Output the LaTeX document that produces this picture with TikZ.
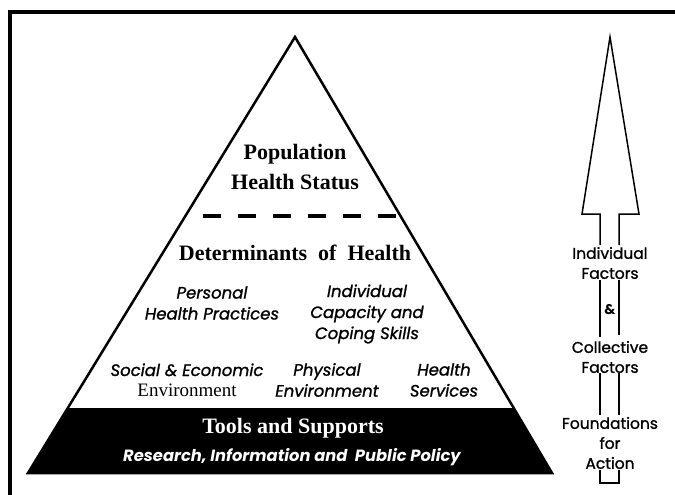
\documentclass[tikz,border=0pt]{standalone}
\usepackage{fontspec}
\usetikzlibrary{calc}
\setmainfont{Liberation Serif}
\newfontfamily\gothic[FakeBold=1.2]{Poppins}
\newfontfamily\gothicb{Poppins}
\begin{document}
\begin{tikzpicture}[x=1pt,y=-1pt,
  serifbig/.style={font=\fontsize{22}{30}\selectfont\bfseries, align=center, inner sep=0pt},
  gothicit/.style={font=\gothic\itshape\fontsize{16.5}{21}\selectfont, align=center, inner sep=0pt},
  serifsmall/.style={font=\fontsize{19}{20}\selectfont, inner sep=0pt},
  sidetext/.style={font=\gothic\fontsize{15.5}{20}\selectfont, align=center, inner sep=0pt},
  shaft/.style={line width=1.5pt},
  frame/.style={line width=4pt}]
\useasboundingbox (0,0) rectangle (675,495);
\fill[white] (0,0) rectangle (675,495);
% frame
\draw[frame] (675,12) -- (10,12) -- (10,495);
% pyramid
\coordinate (apex) at (295,37);
\coordinate (bl) at (28,473);
\coordinate (br) at (552,473);
\path[fill=black] ($(apex)!0.851!(bl)$) -- (bl) -- (br) -- ($(apex)!0.851!(br)$) -- cycle;
\draw[line width=2.5pt, line join=miter] (apex) -- (bl) -- (br) -- cycle;
% dashed line
\coordinate (dl) at (203,216);
\coordinate (dr) at (396,216);
\draw[line width=4pt, dash pattern=on 18pt off 17pt] (dl) -- (dr);
% texts
\node[serifbig] (pop) at (295,167) {Population\\Health Status};
\node[serifbig] (det) at (295,253) {Determinants\ \ of\ \ Health};
\node[gothicit] (php) at (212,303) {Personal\\Health Practices};
\node[gothicit] (icc) at (367,314) {Individual\\Capacity and\\Coping Skills};
\node[gothicit, anchor=base] (soc) at (187,376) {Social \& Economic};
\node[serifsmall, anchor=base] (env) at (187,396) {Environment};
\node[gothicit] (phy) at (327,380) {Physical\\Environment};
\node[gothicit] (hs) at (444,380) {Health\\Services};
\node[serifbig, text=white] (tools) at (293,428) {Tools and Supports};
\node[gothicit, text=white, font=\gothicb\itshape\bfseries\fontsize{16.3}{20}\selectfont] (rip) at (292,457) {Research, Information and\ \ Public Policy};
% right arrow
\coordinate (tip) at (610,37);
\draw[shaft, line join=miter] (600,245) -- (600,214) -- (582,214) -- (tip) -- (639,214) -- (619,214) -- (619,245);
\node[sidetext] (ind) at (610,263) {Individual\\Factors};
\node[sidetext, font=\gothicb\bfseries\fontsize{14}{15}\selectfont] (amp) at (610,310) {\&};
\node[sidetext] (col) at (610,357) {Collective\\Factors};
\node[sidetext] (fou) at (610,443) {Foundations\\for\\Action};
\draw[shaft] (600,280) -- (600,337);
\draw[shaft] (619,280) -- (619,335);
\draw[shaft] (600,373) -- (600,415);
\draw[shaft] (619,373) -- (619,415);
\draw[shaft] (600,470) -- (600,483) -- (619,483) -- (619,470);
\end{tikzpicture}
\end{document}
